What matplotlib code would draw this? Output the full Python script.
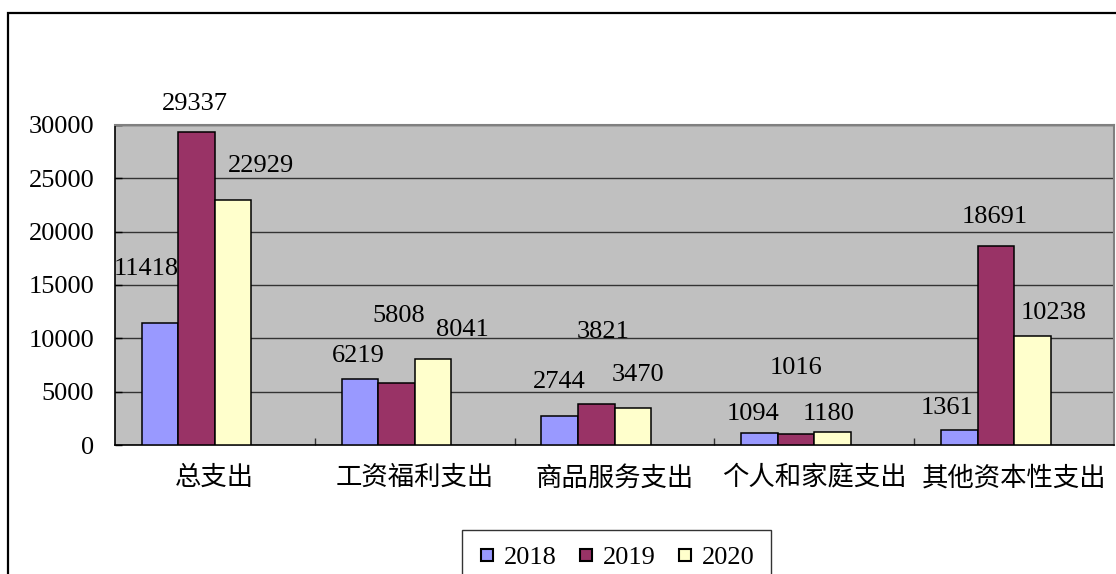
import matplotlib
matplotlib.use("Agg")
import matplotlib.pyplot as plt
from matplotlib.lines import Line2D
from matplotlib.patches import Rectangle
import numpy as np

categories = ["总支出", "工资福利支出", "商品服务支出", "个人和家庭支出", "其他资本性支出"]
years = ["2018", "2019", "2020"]
v2018 = [11418, 6219, 2744, 1094, 1361]
v2019 = [29337, 5808, 3821, 1016, 18691]
v2020 = [22929, 8041, 3470, 1180, 10238]
yticks = [0, 5000, 10000, 15000, 20000, 25000, 30000]

colors = ["#9999FF", "#993366", "#FFFFCC"]
# label offsets in pixels (dx, dy up) relative to bar top-center
offsets = [
    [(-13.5, 54), (-1.5, 23), (0, 34), (-6, 19.5), (-12.5, 22.5)],
    [(-1.5, 28), (2, 67), (7, 72), (0, 66.5), (-1, 28.5)],
    [(28, 34), (29.5, 29.5), (5, 32.5), (-3.5, 18.5), (21, 22.5)],
]

W, H = 1116, 574
FS = 19
fig = plt.figure(figsize=(W / 100, H / 100), dpi=100)
fam = ["Liberation Serif", "Noto Sans CJK SC"]
plt.rcParams["font.family"] = fam

# outer chart border
fig.patches.append(Rectangle((8 / W, 0 - 0.1), 1.2, 1 - 13 / H + 0.1, transform=fig.transFigure,
                             fill=False, edgecolor="black", lw=1.6, zorder=0))

ax = fig.add_axes([115 / W, 1 - 445 / H, (1114 - 115) / W, (445 - 125) / H])
ax.set_facecolor("#C0C0C0")
ax.set_xlim(-0.5, 4.5)
ax.set_ylim(0, 30000)
ax.set_yticks(yticks)
ax.yaxis.grid(True, color="#333333", lw=1)
ax.set_axisbelow(True)

w = 0.183
x = np.arange(len(categories))
series = [v2018, v2019, v2020]
px2pt = 0.72
for k, vals in enumerate(series):
    xs = x + (k - 1.5) * w
    ax.bar(xs, vals, width=w, color=colors[k], edgecolor="black", lw=1.1, zorder=3)
    for i, v in enumerate(vals):
        dx, dy = offsets[k][i]
        ax.annotate(str(v), xy=(xs[i], v), xytext=(dx * px2pt, dy * px2pt),
                    textcoords="offset points", ha="center", va="center",
                    fontsize=FS, family=fam, zorder=5)

ax.set_xticks(x)
ax.set_xticklabels(categories, fontsize=FS, family=fam)
ax.set_xticks(np.arange(0.5, 4.5, 1), minor=True)
ax.tick_params(axis="x", which="major", length=0, pad=15)
ax.tick_params(axis="x", which="minor", length=5, direction="in", width=1, color="#333333")
ax.tick_params(axis="y", length=5, direction="in", width=1, pad=15, labelsize=FS)
for lab in ax.get_yticklabels():
    lab.set_family(fam)

for s in ["top", "right"]:
    ax.spines[s].set_color("#808080")
    ax.spines[s].set_linewidth(1.5)
for s in ["left", "bottom"]:
    ax.spines[s].set_color("black")
    ax.spines[s].set_linewidth(1.2)

handles = [Line2D([], [], ls="none", marker="s", markersize=9, markerfacecolor=c,
                  markeredgecolor="black", markeredgewidth=1.5) for c in colors]
leg = fig.legend(handles, years, loc="upper left", bbox_to_anchor=(462 / W, 1 - 530 / H),
                 ncol=3, frameon=True, fancybox=False, edgecolor="black",
                 prop={"family": fam, "size": FS}, handlelength=0.7, handletextpad=0.3,
                 columnspacing=0.75, borderaxespad=0, borderpad=0.6)
leg.get_frame().set_linewidth(1.0)

fig.savefig("out.png", dpi=100)
